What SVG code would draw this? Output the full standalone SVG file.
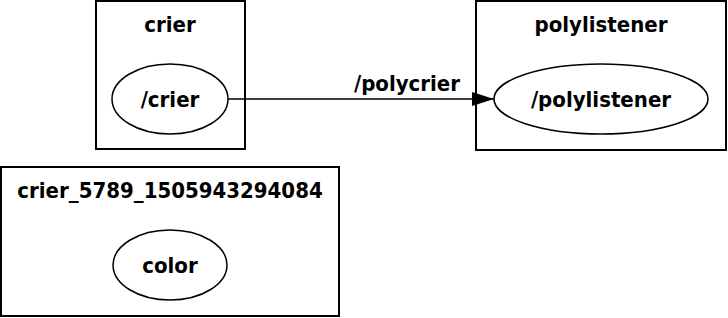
<svg xmlns="http://www.w3.org/2000/svg" width="728" height="318" viewBox="0 0 728 318">
  <style>
    .cluster { fill: #ffffff; stroke: #000000; stroke-width: 2; }
    .node { fill: #ffffff; stroke: #000000; stroke-width: 1.5; }
    .edge { fill: none; stroke: #000000; stroke-width: 1.5; }
    text { font-family: "DejaVu Sans Condensed", "DejaVu Sans", sans-serif; font-stretch: condensed; font-weight: bold; font-size: 22px; fill: #000000; text-anchor: middle; }
  </style>
  <defs>
    <marker id="arrow" viewBox="0 0 22 14" refX="22" refY="7" markerWidth="22" markerHeight="14" markerUnits="userSpaceOnUse" orient="auto">
      <path d="M0,0 L22,7 L0,14 Z" fill="#000000"/>
    </marker>
  </defs>
  <rect width="728" height="318" fill="#ffffff"/>

  <g id="cluster_crier">
    <rect class="cluster" x="96" y="1" width="149" height="148"/>
    <text x="170" y="32">crier</text>
  </g>

  <g id="cluster_polylistener">
    <rect class="cluster" x="476" y="1" width="250" height="149"/>
    <text x="601" y="32">polylistener</text>
  </g>

  <g id="cluster_crier_5789">
    <rect class="cluster" x="1" y="167" width="338" height="149"/>
    <text x="170" y="198">crier_5789_1505943294084</text>
  </g>

  <g id="node_crier">
    <ellipse class="node" cx="170" cy="99" rx="58" ry="35"/>
    <text x="170" y="107">/crier</text>
  </g>

  <g id="node_polylistener">
    <ellipse class="node" cx="601" cy="99" rx="107" ry="35"/>
    <text x="601" y="107">/polylistener</text>
  </g>

  <g id="node_color">
    <ellipse class="node" cx="170" cy="265" rx="57" ry="35"/>
    <text x="170" y="273">color</text>
  </g>

  <g id="connectors">
    <path class="edge" d="M228,99 L494,99" marker-end="url(#arrow)"/>
    <text x="407" y="91">/polycrier</text>
  </g>
</svg>
